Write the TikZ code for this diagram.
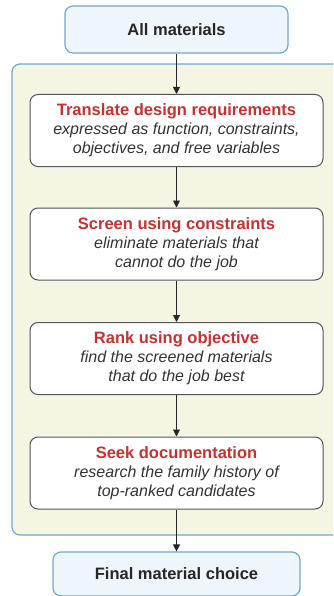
\documentclass[tikz,border=0pt]{standalone}
\usepackage{fontspec}
\setmainfont{Liberation Sans}
\usetikzlibrary{arrows.meta}
\definecolor{panelfill}{HTML}{F4F5E2}
\definecolor{blueline}{HTML}{6FA8D2}
\definecolor{endfill}{HTML}{EEF5FB}
\definecolor{titlered}{HTML}{C8312F}
\definecolor{boxline}{HTML}{555555}
\definecolor{txtgray}{HTML}{333333}
\newcommand{\steptitle}[1]{{\color{titlered}\fontsize{16.5}{19}\selectfont\bfseries\upshape #1}}
\begin{document}
\begin{tikzpicture}[x=1pt,y=-1pt,
  endbox/.style={draw=blueline,line width=1.2pt,fill=endfill,rounded corners=8pt,
    minimum width=223pt,minimum height=47pt,inner sep=0pt,
    font=\fontsize{16.5}{19}\selectfont\bfseries,text=black!85},
  stepbox/.style={draw=boxline,line width=1pt,fill=white,rounded corners=8pt,
    minimum width=293pt,minimum height=72pt,inner sep=0pt,align=center,
    font=\fontsize{16}{19}\selectfont\itshape,text=txtgray},
  flow/.style={-{Triangle[length=7pt,width=7pt]},line width=0.9pt,black!85}]
\useasboundingbox (0,0) rectangle (333,596);
\begin{scope}
\clip (0,0) rectangle (333,596);
\draw[draw=blueline,line width=1.2pt,fill=panelfill,rounded corners=8pt] (12,64) rectangle (350,535);
\node[endbox] (all) at (176.5,29.5) {All materials};
\node[stepbox] (s1) at (176.5,130.5) {\steptitle{Translate design requirements}\\expressed as function, constraints,\\objectives, and free variables};
\node[stepbox] (s2) at (176.5,244) {\steptitle{Screen using constraints}\\eliminate materials that\\cannot do the job};
\node[stepbox] (s3) at (176.5,358.5) {\steptitle{Rank using objective}\\find the screened materials\\that do the job best};
\node[stepbox] (s4) at (176.5,473) {\steptitle{Seek documentation}\\research the family history of\\top-ranked candidates};
\node[endbox,minimum width=247pt,minimum height=44pt] (fin) at (176.5,574) {Final material choice};
\draw[flow] (all) -- (s1);
\draw[flow] (s1) -- (s2);
\draw[flow] (s2) -- (s3);
\draw[flow] (s3) -- (s4);
\draw[flow] (s4) -- (fin);
\end{scope}
\end{tikzpicture}
\end{document}
